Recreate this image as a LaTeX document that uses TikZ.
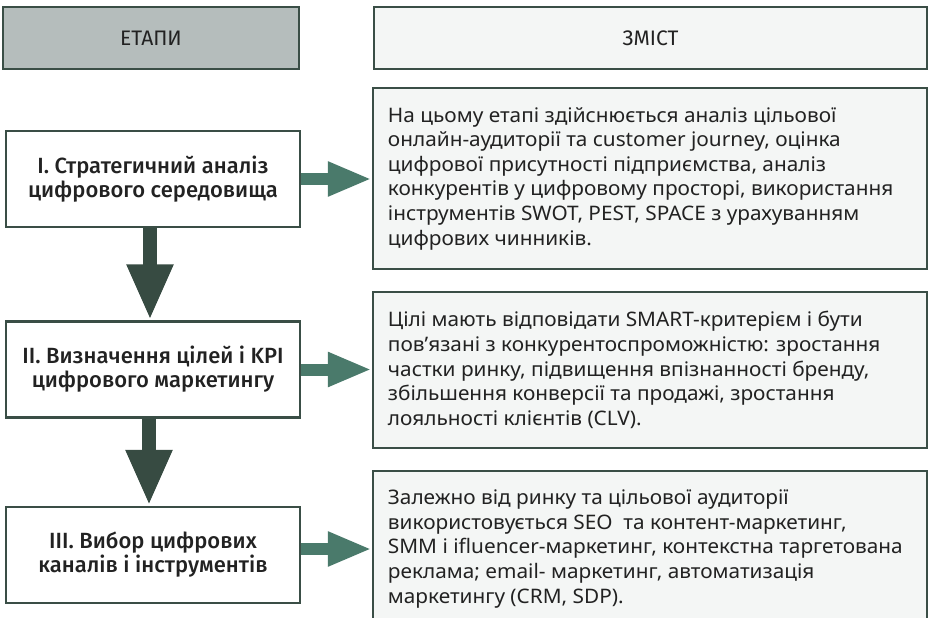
\documentclass[tikz,border=0pt]{standalone}
\usepackage{fontspec}
\setmainfont[FakeStretch=1.04]{Noto Sans}
\newfontfamily\medfont{Fira Sans Medium}
\newfontfamily\hdrfont{Fira Sans}
\usetikzlibrary{arrows.meta}
\definecolor{edge}{HTML}{3A4E46}
\definecolor{hdrgray}{HTML}{B5BDBC}
\definecolor{pale}{HTML}{F4F6F5}
\definecolor{tealg}{HTML}{4A7A6B}
\definecolor{darkg}{HTML}{374B42}
\definecolor{ink}{HTML}{222222}
\tikzset{
  boxbase/.style={draw=edge, line width=2.5pt, rectangle, inner sep=0pt, text=ink},
  hdrbox/.style={boxbase, minimum height=62pt, font=\hdrfont\fontsize{21}{24}\selectfont},
  stagebox/.style={boxbase, fill=white, minimum width=294pt, minimum height=96pt,
    align=center, font=\medfont\fontsize{22}{24}\selectfont},
  contentbox/.style={boxbase, fill=pale, minimum width=554pt},
  contenttext/.style={inner sep=0pt, align=left, anchor=west, text=ink,
    font=\fontsize{20}{24.6}\selectfont},
  rarrow/.style={draw=tealg, line width=12pt,
    -{Triangle[length=44pt,width=32pt]}},
  darrow/.style={draw=darkg, line width=14pt,
    -{Triangle[length=56pt,width=43pt]}}
}
\begin{document}
\begin{tikzpicture}[x=1pt,y=-1pt]
\clip (0,0) rectangle (929,618);
\useasboundingbox (0,0) rectangle (929,618);
% headers
\node[hdrbox, fill=hdrgray, minimum width=296pt] (h1) at (151,38) {ЕТАПИ};
\node[hdrbox, fill=pale, minimum width=553pt] (h2) at (650.5,38) {ЗМІСТ};
% stages
\node[stagebox] (b1) at (153,179) {I. Стратегичний аналіз\\цифрового середовища};
\node[stagebox] (b2) at (153,369.5) {II. Визначення цілей і KPI\\цифрового маркетингу};
\node[stagebox] (b3) at (153,555) {III. Вибор цифрових\\каналів і інструментів};
% content boxes
\node[contentbox, minimum height=181pt] (r1) at (650,178.5) {};
\node[contentbox, minimum height=156pt] (r2) at (650,370) {};
\node[contentbox, minimum height=156pt] (r3) at (650,549) {};
\node[contenttext] (t1) at ([xshift=16pt]r1.west) {На цьому етапі здійснюється аналіз цільової\\онлайн-аудиторії та customer journey, оцінка\\цифрової присутності підприємства, аналіз\\конкурентів у цифровому просторі, використання\\інструментів SWOT, PEST, SPACE з урахуванням\\цифрових чинників.};
\node[contenttext] (t2) at ([xshift=16pt]r2.west) {Цілі мають відповідати SMART-критерієм і бути\\пов’язані з конкурентоспроможністю: зростання\\частки ринку, підвищення впізнанності бренду,\\збільшення конверсії та продажі, зростання\\лояльності клієнтів (CLV).};
\node[contenttext] (t3) at ([xshift=16pt]r3.west) {Залежно від ринку та цільової аудиторії\\використовується SEO\ \ та контент-маркетинг,\\SMM і ifluencer-маркетинг, контекстна таргетована\\реклама; email- маркетинг, автоматизація\\маркетингу (CRM, SDP).};
% right arrows
\coordinate (a3) at ([yshift=6pt]b3.east);
\draw[rarrow] (b1.east) -- (r1.west |- b1.east);
\draw[rarrow] (b2.east) -- (r2.west |- b2.east);
\draw[rarrow] (a3) -- (r3.west |- a3);
% down arrows
\draw[darrow] ([xshift=-3pt]b1.south) -- ([xshift=-3pt]b2.north);
\draw[darrow] ([xshift=-4pt]b2.south) -- ([xshift=-4pt]b3.north);
\end{tikzpicture}
\end{document}
